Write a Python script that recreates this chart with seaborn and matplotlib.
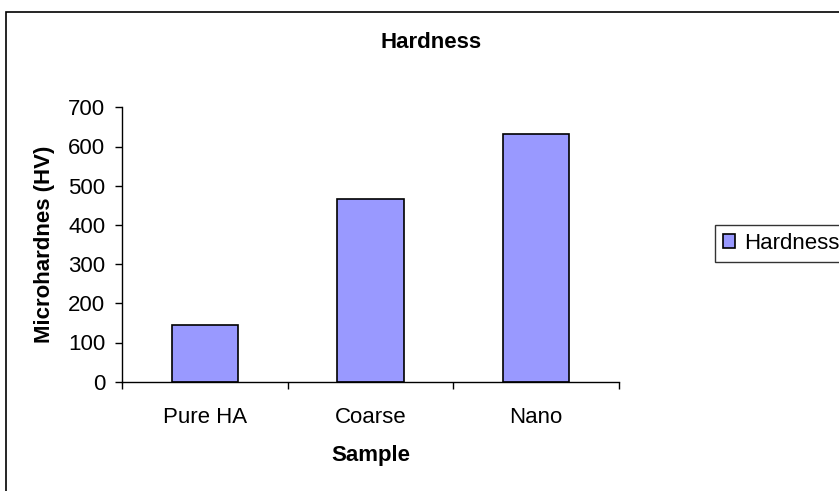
import matplotlib
matplotlib.use("Agg")
import matplotlib.pyplot as plt
from matplotlib.patches import Rectangle
import seaborn as sns
import pandas as pd

samples = ["Pure HA", "Coarse", "Nano"]
hardness = [144, 466, 633]
y_ticks = [0, 100, 200, 300, 400, 500, 600, 700]

sns.set_style("white")
plt.rcParams["font.family"] = ["Liberation Sans", "DejaVu Sans"]
plt.rcParams["text.color"] = "black"
plt.rcParams["axes.labelcolor"] = "black"
plt.rcParams["xtick.color"] = "black"
plt.rcParams["ytick.color"] = "black"

FS = 16
df = pd.DataFrame({"Sample": samples, "Hardness": hardness})

W, H = 839, 491
fig = plt.figure(figsize=(W / 100, H / 100), dpi=100)
left, right, top, bottom = 122, 619, 107.3, 381.7
ax = fig.add_axes([left / W, 1 - bottom / H, (right - left) / W, (bottom - top) / H])

sns.barplot(data=df, x="Sample", y="Hardness", color="#9999ff", saturation=1,
            width=0.4, edgecolor="black", linewidth=1.2, ax=ax, label="Hardness")

ax.set_xlim(-0.5, 2.5)
ax.set_ylim(0, 700)
ax.set_yticks(y_ticks)
ax.set_yticklabels([str(v) for v in y_ticks], fontsize=FS)
ax.set_xticks([-0.5, 0.5, 1.5, 2.5], minor=False)
ax.set_xticklabels([])
ax.set_xticks([0, 1, 2], minor=True)
ax.set_xticklabels(samples, minor=True, fontsize=FS)
ax.tick_params(axis="x", which="minor", length=0, pad=18)
ax.tick_params(axis="x", which="major", length=5, width=1, direction="out", bottom=True)
ax.tick_params(axis="y", length=5, width=1, direction="out", left=True, pad=7)

for side in ["top", "right"]:
    ax.spines[side].set_visible(False)
for side in ["left", "bottom"]:
    ax.spines[side].set_color("black")
    ax.spines[side].set_linewidth(1)

ax.set_xlabel("Sample", fontsize=FS, fontweight="bold")
ax.set_ylabel("Microhardnes (HV)", fontsize=FS, fontweight="bold")
ax.xaxis.set_label_coords(0.5, (bottom - 456) / (bottom - top))
ax.yaxis.set_label_coords((45 - left) / (right - left), 0.5)
ax.xaxis.label.set_va("center")
ax.yaxis.label.set_va("center")
fig.text(431 / W, 1 - 43 / H, "Hardness", ha="center", va="center",
         fontsize=FS, fontweight="bold")

leg = ax.legend(loc="upper left", bbox_to_anchor=(715 / W, 1 - 225 / H),
                bbox_transform=fig.transFigure, frameon=True, fancybox=False,
                fontsize=FS, handlelength=0.55, handleheight=0.55,
                handletextpad=0.4, borderpad=0.35, borderaxespad=0)
leg.get_frame().set_edgecolor("black")
leg.get_frame().set_linewidth(1)

# outer chart frame
fig.patches.append(Rectangle((6 / W, -0.1), 1.2, 1 - 12 / H + 0.1,
                             transform=fig.transFigure, fill=False,
                             edgecolor="black", linewidth=1.2))

fig.savefig("out.png", dpi=100)
